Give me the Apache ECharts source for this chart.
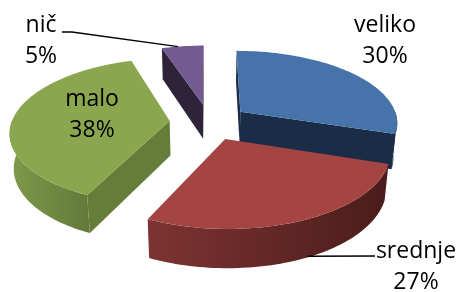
<!DOCTYPE html>
<html><head><meta charset="utf-8">
<script src="https://cdn.jsdelivr.net/npm/echarts@6/dist/echarts.min.js"></script>
<style>html,body{margin:0;padding:0;background:#fff}#c{width:459px;height:292px}</style>
</head><body><div id="c"></div>
<script>
// ---- data ----
const categories = ['veliko', 'srednje', 'malo', 'nič'];
const values = [30, 27, 38, 5];

// ---- styling / layout ----
const topColors  = ['#4673a9', '#a54543', '#8aa64f', '#735a91'];
const faceColors = ['#1b2c46', '#4d1e1d', '#667c39', '#2e2339'];
const wallColors = [['#2a4468', '#1b2c46'], ['#7d3432', '#4a1c1b'], ['#7e9a4b', '#62793a'], ['#4a3a60', '#2e2339']];
const labelPos = [[385, 41], [416, 267], [92, 115], [41, 41]];
const leaders = {
  3: { pts: [[62, 32], [72, 32]], ang: 349, h: 0 },
  1: { pts: [[375, 256]], ang: 154, h: -0.97 }
};
const P = { cx: 209, cy: 122, sx: 158, sy: 150, sinE: 0.48, cosE: 0.877, k: 0.16, t: 0.27, d: 0.25 };

const total = values.reduce((a, b) => a + b, 0);
const starts = [];
{ let acc = 0; values.forEach(v => { starts.push(acc / total * 360); acc += v; }); }

function proj(u, v, h) {
  const q = v * P.cosE + h * P.sinE;
  const s = 1 / (1 - P.k * q);
  return [P.cx + P.sx * u * s, P.cy + P.sy * (v * P.sinE - h * P.cosE) * s];
}
function pt(a, r, h, m) {
  const ra = a * Math.PI / 180, rm = m * Math.PI / 180;
  const u = r * Math.sin(ra) + P.d * Math.sin(rm);
  const v = -r * Math.cos(ra) - P.d * Math.cos(rm);
  return proj(u, v, h);
}
function arc(b1, b2, h, m) {
  const n = Math.max(2, Math.ceil((b2 - b1) / 1.5));
  const out = [];
  for (let i = 0; i <= n; i++) out.push(pt(b1 + (b2 - b1) * i / n, 1, h, m));
  return out;
}
function area(poly) {
  let s = 0;
  for (let i = 0; i < poly.length; i++) {
    const p = poly[i], q = poly[(i + 1) % poly.length];
    s += p[0] * q[1] - q[0] * p[1];
  }
  return s;
}
// depth ranks (back first)
const mids = values.map((v, i) => starts[i] + v / total * 180);
const order = mids.map((m, i) => i).sort((a, b) => (-Math.cos(mids[a] * Math.PI / 180)) - (-Math.cos(mids[b] * Math.PI / 180)));
const rank = []; order.forEach((idx, r) => rank[idx] = r);

function renderItem(params, api) {
  const i = params.dataIndex;
  const a1 = starts[i], a2 = a1 + values[i] / total * 360, m = mids[i];
  const base = rank[i] * 10;
  const children = [];
  const t = -P.t;
  // walls
  const b1 = Math.max(a1, 90), b2 = Math.min(a2, 270);
  if (b1 < b2) {
    const poly = arc(b1, b2, 0, m).concat(arc(b1, b2, t, m).reverse());
    children.push({ type: 'polygon', z2: base + 1, shape: { points: poly },
      style: { fill: new echarts.graphic.LinearGradient(0, 0, 1, 0, [{ offset: 0, color: wallColors[i][0] }, { offset: 1, color: wallColors[i][1] }]) } });
  }
  // cut faces
  const vt = pt(0, 0, 0, m), vb = pt(0, 0, t, m);
  const f1 = [vt, pt(a1, 1, 0, m), pt(a1, 1, t, m), vb];
  if (area(f1) < 0) children.push({ type: 'polygon', z2: base + 2, shape: { points: f1 }, style: { fill: faceColors[i] } });
  const f2 = [vt, pt(a2, 1, 0, m), pt(a2, 1, t, m), vb];
  if (area(f2) > 0) children.push({ type: 'polygon', z2: base + 2, shape: { points: f2 }, style: { fill: faceColors[i] } });
  // top
  children.push({ type: 'polygon', z2: base + 5, shape: { points: [vt].concat(arc(a1, a2, 0, m)) }, style: { fill: topColors[i] } });
  // leader
  if (leaders[i]) {
    const L = leaders[i];
    const pts = L.pts.concat([pt(L.ang, 1, L.h * P.t, m)]);
    children.push({ type: 'polyline', z2: 100, shape: { points: pts }, style: { stroke: '#000', lineWidth: 1.3, fill: null } });
  }
  // label
  const pct = Math.round(values[i] / total * 100) + '%';
  children.push({ type: 'text', z2: 101, style: { text: categories[i] + '\n' + pct, x: labelPos[i][0], y: labelPos[i][1],
    align: 'center', verticalAlign: 'middle', fontFamily: 'Open Sans', fontSize: 23, lineHeight: 31, fill: '#000' } });
  return { type: 'group', children };
}

const chart = echarts.init(document.getElementById('c'), null, { renderer: 'canvas' });
chart.setOption({
  animation: false,
  backgroundColor: '#fff',
  series: [{
    type: 'custom',
    coordinateSystem: 'none',
    silent: true,
    data: values.map((v, i) => ({ name: categories[i], value: v })),
    renderItem
  }]
});
</script>
</body></html>
